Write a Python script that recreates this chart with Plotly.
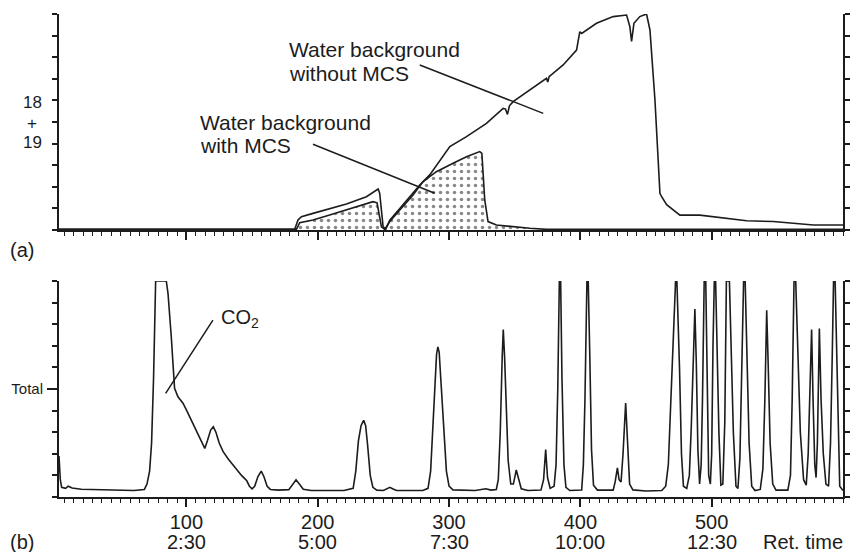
import plotly.graph_objects as go

# ---------------- data ----------------
# Panel (a): m/z 18+19 water background
a_x_without = [3, 182.5, 185, 187.6, 196.4, 209.1, 221.9, 237.1, 246, 247.2, 249.8, 251.8, 254.9,
               262.5, 272.6, 277.7, 285.3, 293, 300.6, 313.3, 328.5, 341.2, 343, 344.5, 346, 348.8,
               361.5, 374.2, 375.2, 376.2, 386.9, 397.1, 399.6, 401, 412.3, 425, 435.2, 437.7, 439,
               440.8, 445.3, 450.4, 453, 456.8, 460.6, 461.9, 465.7, 475.8, 491, 526.6, 546.9, 577.4, 600]
a_y_without = [0.03, 0.03, 0.46, 0.62, 0.77, 1.0, 1.2, 1.54, 1.9, 1.7, 0.16, 0.03, 0.46,
               1.0, 1.7, 2.08, 2.55, 3.24, 3.86, 4.32, 4.94, 5.63, 5.6, 5.35, 5.75, 5.94,
               6.48, 7.02, 6.85, 7.1, 7.64, 8.33, 9.18, 9.1, 9.57, 9.88, 9.95, 9.41, 8.73,
               9.57, 9.88, 10.0, 9.26, 6.02, 1.7, 1.54, 1.17, 0.69, 0.69, 0.43, 0.39, 0.23, 0.23]

a_x_with = [3, 183.8, 186.3, 196.4, 209.1, 222, 237.1, 242.1, 245.2, 248.5, 251, 254.9, 262.5,
            272.6, 280.2, 290.4, 303.1, 313.3, 323.4, 325, 327.2, 329.7, 336.1, 348.8, 361.5, 374, 600]
a_y_with = [0.03, 0.03, 0.34, 0.46, 0.69, 0.93, 1.2, 1.31, 1.26, 0.15, 0.03, 0.39, 0.93,
            1.62, 2.24, 2.7, 3.09, 3.39, 3.63, 3.55, 1.39, 0.39, 0.23, 0.15, 0.08, 0.03, 0.03]

# Panel (b): total ion chromatogram
b_x = [3, 4, 5, 8, 10, 13, 20, 40, 60, 68, 70, 72, 73.5, 75, 76, 76.6, 84.7, 86, 88.5, 89.8, 91,
       93.6, 97.4, 100, 105, 110, 114, 116, 118.5, 120.5, 122.5, 125, 128, 132, 137, 142, 146, 148,
       150, 152, 154.5, 157, 159, 161.5, 164, 170, 178, 181, 183.5, 186, 189, 195, 220, 227, 229,
       231, 233, 235, 236.5, 238, 240, 242, 245, 250, 253, 255, 257, 260, 280, 284, 286, 287.5, 289,
       290.5, 291.5, 292.5, 294, 296, 298, 300, 303, 320, 328, 332, 336, 337.5, 339, 340.5, 341.3,
       342.3, 343.5, 345, 347, 349, 351.2, 353, 355, 360, 370, 372, 373.6, 375, 377, 380, 381.5,
       382.8, 384, 385, 386, 387.5, 389, 392, 401, 402.3, 403.5, 405, 406, 407.2, 408.5, 410, 413,
       425, 426.5, 428.2, 429.5, 431, 432.5, 434.5, 436, 437.5, 440, 450, 462, 465, 467, 468.5, 470,
       471.5, 472.5, 473.5, 474.5, 475.5, 477, 478.5, 481, 483, 484.5, 486.2, 487.2, 488.3, 489.5,
       490.8, 492, 493, 494.3, 495.5, 496.5, 497.7, 499, 500, 501, 502, 503, 504.3, 505.5, 507,
       508.5, 510, 511.2, 513.5, 514.8, 516.5, 518.5, 520, 521.5, 523, 524.3, 525.5, 526.8, 528.5,
       530.5, 533, 537, 539, 540.5, 541.9, 543, 544.5, 546.5, 549, 558, 560, 561.3, 562.7, 564,
       565.5, 567.5, 570, 572, 573.5, 575, 576.1, 577.2, 578.5, 579.5, 580.5, 582, 583.3, 585, 587,
       589, 590.5, 591.8, 592.8, 594, 595, 596.3, 597.5, 600]
b_y = [1.9, 0.8, 0.45, 0.4, 0.5, 0.42, 0.36, 0.32, 0.3, 0.35, 0.6, 1.2, 2.5, 5.5, 9.0, 10, 10, 9.43, 7.42, 5.88, 5.03,
       4.64, 4.34, 4.03, 3.4, 2.7, 2.25, 2.6, 3.1, 3.25, 3.0, 2.5, 2.1, 1.75, 1.35, 1.0, 0.75, 0.5,
       0.38, 0.5, 0.95, 1.2, 0.95, 0.5, 0.35, 0.32, 0.34, 0.6, 0.8, 0.6, 0.36, 0.3, 0.3, 0.4, 1.2,
       2.6, 3.3, 3.55, 3.3, 2.4, 1.0, 0.45, 0.32, 0.3, 0.38, 0.45, 0.38, 0.3, 0.3, 0.4, 1.2, 3.0, 5.0,
       6.6, 6.95, 6.7, 5.2, 3.2, 1.2, 0.5, 0.33, 0.3, 0.38, 0.32, 0.35, 0.8, 3.0, 6.5, 7.75,
       6.5, 3.8, 1.7, 0.6, 0.6, 1.25, 0.8, 0.38, 0.3, 0.32, 0.8, 2.2, 0.9, 0.4, 0.5, 1.5,
       5.0, 10, 10, 5.5, 1.5, 0.45, 0.3, 0.32, 1.5, 4.5, 10, 10, 6.5, 2.2, 0.55, 0.32,
       0.32, 0.7, 1.35, 0.8, 0.7, 2.0, 4.35, 2.2, 0.6, 0.33, 0.28, 0.3, 0.5, 1.5, 3.8, 6.8,
       8.6, 10, 10, 8.3, 6.0, 2.0, 0.5, 0.4, 1.0, 3.3, 7.0, 8.7, 6.2, 2.2,
       0.6, 1.5, 4.5, 10, 10, 5.0, 1.0, 0.6, 2.0, 7.0, 10, 10, 6.5, 3.0, 0.55,
       0.6, 3.5, 10, 10, 7.0, 3.0, 0.5, 0.4, 1.8, 6.0, 10, 10, 6.5, 2.5,
       0.5, 0.3, 0.35, 1.3, 4.5, 8.65, 6.2, 2.5, 0.6, 0.32, 0.32, 1.0, 4.5, 10, 10,
       6.5, 3.0, 0.8, 0.55, 2.0, 5.5, 7.75, 4.5, 1.5, 0.9, 2.5, 7.8, 4.5, 2.0, 0.6,
       0.5, 2.5, 6.5, 10, 10, 7.0, 3.0, 0.5, 0.3]

# axis tick labels
x_tick_vals = [100, 200, 300, 400, 500]
x_tick_scan = ["100", "200", "300", "400", "500"]
x_tick_time = ["2:30", "5:00", "7:30", "10:00", "12:30"]
y_tick_vals_a = [0, 1, 2, 3, 4, 5, 6, 7, 8, 9, 10]
y_tick_vals_b = [5]
y_tick_text_b = ["Total"]

# annotation texts / anchor points (data units)
a_label_text = ["Water background", "without MCS", "Water background", "with MCS"]
a_label_x = [176.6, 176.6, 108.8, 108.8]
a_label_y = [8.35, 7.24, 5.0, 3.92]
a_leader_x0 = [277.7, 196.4]
a_leader_y0 = [7.64, 3.97]
a_leader_x1 = [371.7, 289.1]
a_leader_y1 = [5.40, 1.70]
ion_label = ["18", "+", "19"]
ion_label_y = [5.9, 4.95, 4.05]
co2_text = "CO<sub>2</sub>"
co2_pos = (124.6, 8.25)
co2_leader = ((120.2, 8.19), (84.2, 4.8))

# ---------------- figure ----------------
INK = "#1c1c1c"
FONT = "Liberation Sans, Arial, Helvetica, sans-serif"

fig = go.Figure()

fig.add_trace(go.Scatter(
    x=a_x_with, y=a_y_with, mode="lines", xaxis="x", yaxis="y",
    line=dict(color=INK, width=1.6), fill="tozeroy", fillcolor="white",
    fillpattern=dict(shape=".", size=7, solidity=0.2, fgcolor="#111111", bgcolor="white"),
    showlegend=False, hoverinfo="skip"))
fig.add_trace(go.Scatter(
    x=a_x_without, y=a_y_without, mode="lines", xaxis="x", yaxis="y",
    line=dict(color=INK, width=1.6), showlegend=False, hoverinfo="skip"))
fig.add_trace(go.Scatter(
    x=b_x, y=b_y, mode="lines", xaxis="x2", yaxis="y2",
    line=dict(color=INK, width=1.6), showlegend=False, hoverinfo="skip"))

xaxis_common = dict(
    range=[3, 600], showgrid=False, zeroline=False, showline=True, linecolor=INK, linewidth=2,
    ticks="outside", ticklen=8, tickwidth=1.5, tickcolor=INK, tickmode="array",
    tickvals=x_tick_vals, mirror=False, automargin=False,
    minor=dict(tickmode="linear", tick0=0, dtick=100 / 14, ticks="outside", ticklen=4,
               tickwidth=1.2, tickcolor=INK, showgrid=False),
)
yaxis_common = dict(
    range=[0, 10], showgrid=False, zeroline=False, showline=True, linecolor=INK, linewidth=2,
    ticks="outside", tickwidth=1.5, tickcolor=INK, mirror="ticks", tickmode="array",
    automargin=False,
)

fig.update_layout(
    width=850, height=552,
    margin=dict(l=59, r=7, t=14, b=55, pad=0, autoexpand=False),
    paper_bgcolor="white", plot_bgcolor="white",
    font=dict(family=FONT, color=INK, size=20),
    xaxis=dict(**xaxis_common, anchor="y", domain=[0, 1], showticklabels=False),
    yaxis=dict(**yaxis_common, domain=[0.5528, 1], tickvals=y_tick_vals_a, ticklen=5,
               showticklabels=False),
    xaxis2=dict(**xaxis_common, anchor="y2", domain=[0, 1], ticktext=x_tick_scan,
                ticklabelstandoff=-2, tickfont=dict(size=20, family=FONT, color=INK)),
    yaxis2=dict(**yaxis_common, domain=[0, 0.4472], tickvals=y_tick_vals_b, ticklen=10,
                ticktext=y_tick_text_b, ticklabelstandoff=1,
                tickfont=dict(size=15, family=FONT, color=INK),
                minor=dict(tickmode="linear", tick0=0, dtick=1, ticks="outside", ticklen=5,
                           tickwidth=1.5, tickcolor=INK, showgrid=False)),
)

annotations = []
for t, x, y in zip(a_label_text, a_label_x, a_label_y):
    annotations.append(dict(text=t, x=x, y=y, xref="x", yref="y", xanchor="left",
                            yanchor="middle", showarrow=False, font=dict(size=21)))
for t, y in zip(ion_label, ion_label_y):
    annotations.append(dict(text=t, x=0, y=y, xref="paper", yref="y", xanchor="center",
                            yanchor="middle", xshift=-27, showarrow=False,
                            font=dict(size=17)))
for v, t in zip(x_tick_vals, x_tick_time):
    annotations.append(dict(text=t, x=v, y=-0.0932, xref="x2", yref="paper", xanchor="center",
                            yanchor="middle", showarrow=False, font=dict(size=20)))
annotations.append(dict(text=co2_text, x=co2_pos[0], y=co2_pos[1], xref="x2", yref="y2",
                        xanchor="left", yanchor="middle", showarrow=False, font=dict(size=20)))
annotations.append(dict(text="(a)", x=-0.0472, y=0.5114, xref="paper", yref="paper",
                        xanchor="center", yanchor="middle", showarrow=False, font=dict(size=20)))
annotations.append(dict(text="(b)", x=-0.0478, y=-0.0932, xref="paper", yref="paper",
                        xanchor="center", yanchor="middle", showarrow=False,
                        font=dict(size=20)))
annotations.append(dict(text="Ret. time", x=1.0026, y=-0.0932, xref="paper", yref="paper",
                        xanchor="right", yanchor="middle", showarrow=False,
                        font=dict(size=20)))
fig.update_layout(annotations=annotations)

shapes = []
for x0, y0, x1, y1 in zip(a_leader_x0, a_leader_y0, a_leader_x1, a_leader_y1):
    shapes.append(dict(type="line", xref="x", yref="y", x0=x0, y0=y0, x1=x1, y1=y1,
                       line=dict(color=INK, width=1.5)))
shapes.append(dict(type="line", xref="x2", yref="y2", x0=co2_leader[0][0], y0=co2_leader[0][1],
                   x1=co2_leader[1][0], y1=co2_leader[1][1], line=dict(color=INK, width=1.5)))
fig.update_layout(shapes=shapes)

fig.write_html("out.html")
